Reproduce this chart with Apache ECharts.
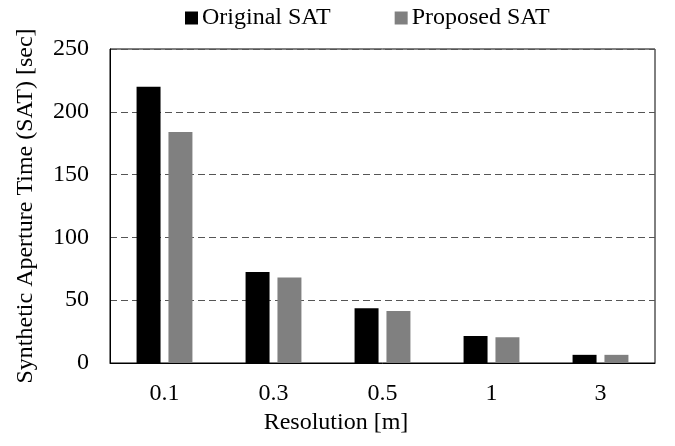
<!DOCTYPE html>
<html>
<head>
<meta charset="utf-8">
<script src="https://cdn.jsdelivr.net/npm/echarts@6/dist/echarts.min.js"></script>
<style>
  html, body { margin: 0; padding: 0; background: #fff; }
  #chart { width: 675px; height: 446px; }
</style>
</head>
<body>
<div id="chart"></div>
<script>
// Resolution categories and synthetic aperture times (seconds)
const resolutions = ['0.1', '0.3', '0.5', '1', '3'];
const originalSAT = [220, 72.5, 43.5, 21.5, 6.5];
const proposedSAT = [184, 68, 41.5, 20.5, 6.5];
const yTicks = [0, 50, 100, 150, 200, 250];

const FONT = 'Liberation Serif';
const FS = 24;
const chart = echarts.init(document.getElementById('chart'));

chart.setOption({
  backgroundColor: '#fff',
  textStyle: { fontFamily: FONT, color: '#000' },
  legend: {
    top: 1,
    left: 180,
    itemWidth: 13,
    itemHeight: 13,
    itemGap: 64,
    icon: 'rect',
    textStyle: { fontFamily: FONT, fontSize: FS, color: '#000', padding: [0, 0, 0, -1] },
    data: ['Original SAT', 'Proposed SAT']
  },
  grid: {
    left: 110, right: 20, top: 49, bottom: 83,
    show: true, borderColor: '#000', borderWidth: 1
  },
  xAxis: {
    type: 'category',
    data: resolutions,
    name: 'Resolution [m]',
    nameLocation: 'middle',
    nameGap: 47,
    // title sits centred under the whole chart rather than the plot box
    nameTextStyle: { fontFamily: FONT, fontSize: FS, color: '#000', padding: [0, 93, 0, 0] },
    axisLine: { lineStyle: { color: '#000', width: 1 } },
    axisTick: { show: false },
    axisLabel: { margin: 19, fontFamily: FONT, fontSize: FS, color: '#000' }
  },
  yAxis: {
    type: 'value',
    min: yTicks[0],
    max: yTicks[yTicks.length - 1],
    interval: 50,
    name: 'Synthetic Aperture Time (SAT) [sec]',
    nameLocation: 'middle',
    nameGap: 72,
    nameTextStyle: { fontFamily: FONT, fontSize: FS, color: '#000' },
    axisLine: { show: true, lineStyle: { color: '#000', width: 1 } },
    axisTick: { show: false },
    axisLabel: { margin: 21, fontFamily: FONT, fontSize: FS, color: '#000' },
    splitLine: { show: true, lineStyle: { color: '#555', type: [7, 4], width: 1 } }
  },
  series: [
    {
      name: 'Original SAT',
      type: 'bar',
      data: originalSAT,
      barWidth: '22%',
      barGap: '33%',
      itemStyle: { color: '#000', borderRadius: 0 }
    },
    {
      name: 'Proposed SAT',
      type: 'bar',
      data: proposedSAT,
      barWidth: '22%',
      itemStyle: { color: '#808080', borderRadius: 0 }
    }
  ],
  animation: false
});
</script>
</body>
</html>
